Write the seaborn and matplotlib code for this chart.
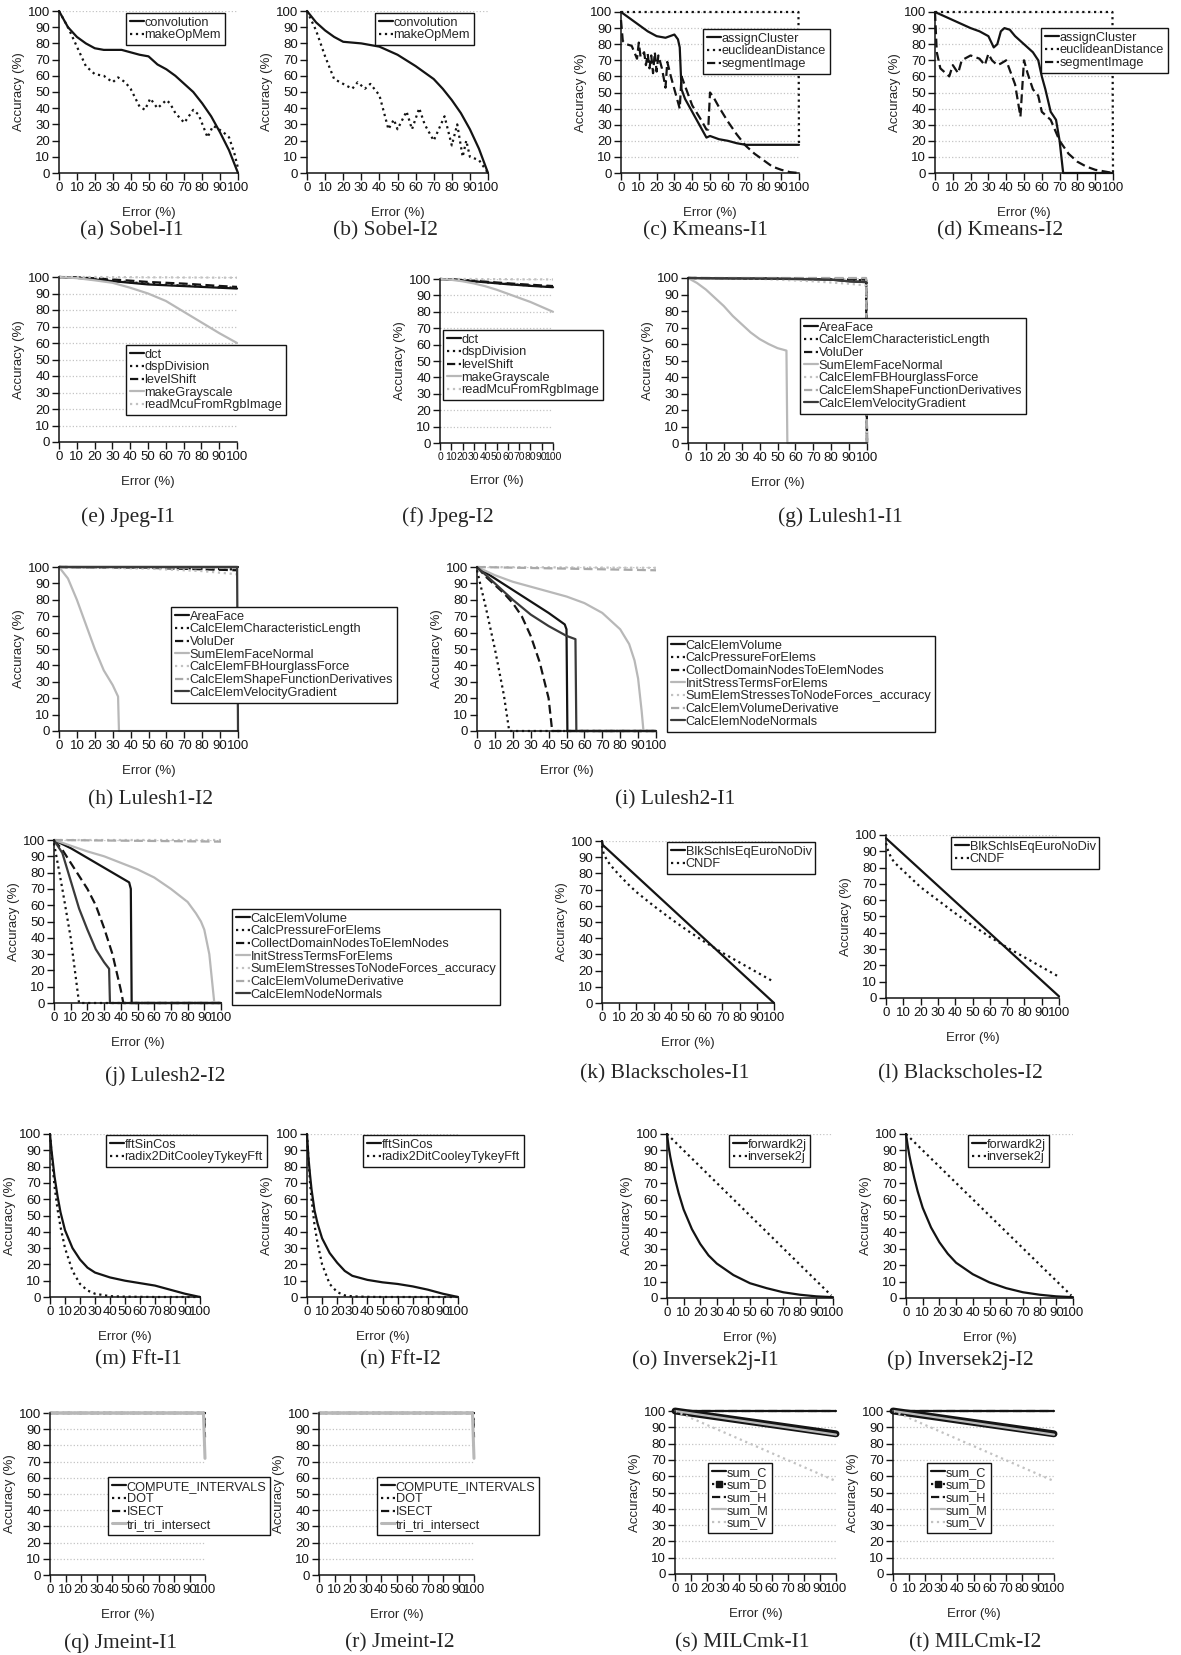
import pandas as pd
import seaborn as sns
import matplotlib.pyplot as plt
from matplotlib.lines import Line2D

sns.set_style("ticks")
plt.rcParams['font.family'] = ['Liberation Sans', 'DejaVu Sans']

### Data (Error % on x, Accuracy % on y)

# (a) Sobel-I1
sobel1_conv_x = [0, 5, 10, 15, 20, 25, 35, 40, 45, 50, 55, 60, 65, 70, 75, 80, 85, 90, 95, 100]
sobel1_conv_y = [100, 90, 84, 80, 77, 76, 76, 74.5, 73, 72, 67, 64, 60, 55, 50, 43, 35, 25, 14, 0]
sobel1_mem_x = [0, 5, 10, 15, 20, 25, 30, 33, 37, 40, 45, 48, 51, 55, 60, 62, 65, 70, 75, 78, 83, 86, 88, 92, 95, 98, 100]
sobel1_mem_y = [100, 90, 78, 66, 61, 60, 56, 59, 56, 52, 41, 39, 46, 40, 45, 43, 37, 31, 39, 36, 22, 29, 28, 25, 22, 12, 3]

# (b) Sobel-I2
sobel2_conv_x = [0, 5, 10, 15, 20, 30, 40, 50, 60, 70, 75, 80, 85, 90, 95, 100]
sobel2_conv_y = [100, 93, 88, 84, 81, 80, 78, 73, 66, 58, 52, 45, 37, 27, 15, 0]
sobel2_mem_x = [0, 5, 10, 15, 20, 25, 28, 32, 35, 40, 45, 48, 50, 55, 58, 62, 65, 70, 72, 76, 80, 83, 86, 88, 90, 95, 100]
sobel2_mem_y = [100, 88, 72, 58, 55, 52, 56, 52, 55, 48, 27, 33, 27, 38, 27, 40, 30, 20, 25, 35, 17, 30, 10, 20, 10, 8, 0]

# (c) Kmeans-I1
km1_assign_x = [0, 5, 10, 15, 20, 25, 30, 32, 33, 34, 36, 40, 45, 48, 50, 55, 60, 65, 70, 80, 100]
km1_assign_y = [100, 96, 92, 88, 85, 84, 86, 83, 78, 52, 46, 38, 28, 22, 23, 21, 20, 18.5, 17.5, 17.5, 17.5]
km1_eucl_x = [0, 99.7, 100]
km1_eucl_y = [100, 100, 17]
km1_seg_x = [0, 1, 3, 6, 9, 10, 11, 13, 14, 15, 16, 17, 18, 19, 20, 21, 23, 25, 26, 28, 30, 33, 34, 36, 40, 45, 48, 49, 50, 52, 55, 60, 65, 70, 75, 80, 85, 90, 95, 100]
km1_seg_y = [95, 82, 80, 79, 71, 81, 72, 75, 67, 74, 65, 73, 62, 75, 63, 73, 65, 53, 69, 60, 52, 40, 60, 54, 42, 33, 27, 27, 50, 47, 41, 32, 24, 17, 12, 8, 4, 2, 0.5, 0]

# (d) Kmeans-I2
km2_assign_x = [0, 10, 20, 25, 30, 33, 35, 37, 39, 42, 45, 50, 55, 58, 60, 62, 65, 68, 70, 72, 100]
km2_assign_y = [100, 95, 90, 88, 85, 78, 80, 88, 90, 89, 85, 80, 75, 70, 60, 52, 38, 33, 20, 0, 0]
km2_eucl_x = [0, 99.7, 100]
km2_eucl_y = [100, 100, 0]
km2_seg_x = [0, 1, 3, 5, 8, 10, 13, 15, 20, 25, 28, 30, 32, 35, 37, 40, 45, 48, 50, 52, 55, 58, 60, 65, 70, 75, 80, 85, 90, 95, 100]
km2_seg_y = [100, 75, 65, 63, 60, 67, 62, 70, 73, 71, 67, 74, 70, 67, 68, 70, 55, 35, 70, 62, 52, 48, 38, 33, 20, 12, 7, 4, 2, 1, 0]

# (e) Jpeg-I1 / (f) Jpeg-I2
jpeg_x = [0, 10, 20, 30, 40, 50, 60, 70, 80, 90, 100]
jpeg1_dct = [100, 99.5, 98.5, 97.5, 96.5, 95.5, 95, 94.5, 94, 93.5, 93]
jpeg1_dsp = [100, 99.5, 98.8, 97.8, 96.8, 96, 95.3, 94.8, 94.3, 93.8, 93.5]
jpeg1_level = [100, 99.8, 99.2, 98.5, 97.8, 97, 96.5, 96, 95.3, 94.6, 94]
jpeg1_gray = [100, 99.3, 98, 96.5, 93.5, 90, 85.5, 79, 72.5, 66, 60]
jpeg1_mcu = [100, 100, 100, 99.9, 99.9, 99.8, 99.8, 99.7, 99.7, 99.6, 99.6]
jpeg2_dct = [100, 99.7, 99.2, 98.6, 98, 97.4, 96.8, 96.3, 95.8, 95.4, 95]
jpeg2_dsp = [100, 99.7, 99.3, 98.7, 98.1, 97.5, 97, 96.5, 96, 95.6, 95.2]
jpeg2_level = [100, 99.8, 99.4, 98.9, 98.4, 97.9, 97.4, 96.9, 96.5, 96.1, 95.7]
jpeg2_gray = [100, 99.5, 98.6, 97.3, 95.6, 93.5, 91, 88.5, 86, 83, 80]
jpeg2_mcu = [100, 100, 100, 100, 99.9, 99.9, 99.9, 99.8, 99.8, 99.8, 99.7]

# (g) Lulesh1-I1
l11_area_x = [0, 50, 80, 90, 99.5, 100]
l11_area_y = [100, 99.5, 99, 98, 97.5, 0]
l11_char_x = [0, 50, 90, 99.5, 100]
l11_char_y = [100, 99.7, 99, 98.5, 0]
l11_volu_x = [0, 50, 90, 99.5, 100]
l11_volu_y = [100, 99.8, 99.5, 99, 0]
l11_face_x = [0, 5, 10, 15, 20, 25, 30, 35, 40, 45, 50, 55, 55.5, 100]
l11_face_y = [100, 97, 93, 88, 83, 77, 72, 67, 63, 60, 57.5, 56, 0, 0]
l11_hour_x = [0, 40, 70, 90, 99.5, 100]
l11_hour_y = [100, 99.5, 98, 96.5, 95.5, 0]
l11_shape_x = [0, 99.5, 100]
l11_shape_y = [100, 100, 0]
l11_vel_x = [0, 60, 80, 90, 99.5, 100]
l11_vel_y = [100, 99.5, 99, 98, 97.5, 97]

# (h) Lulesh1-I2
l12_area_x = [0, 100]
l12_area_y = [100, 100]
l12_char_x = [0, 50, 100]
l12_char_y = [100, 99.5, 98.5]
l12_volu_x = [0, 50, 100]
l12_volu_y = [100, 99.5, 98]
l12_face_x = [0, 5, 10, 15, 20, 25, 30, 33, 33.5, 100]
l12_face_y = [100, 93, 80, 65, 50, 37, 28, 21, 0, 0]
l12_hour_x = [0, 50, 80, 100]
l12_hour_y = [100, 99, 97.5, 95.5]
l12_shape_x = [0, 100]
l12_shape_y = [100, 99.5]
l12_vel_x = [0, 99.5, 100]
l12_vel_y = [100, 100, 0]

# (i) Lulesh2-I1
l21_vol_x = [0, 10, 20, 30, 40, 49, 50, 50.5, 100]
l21_vol_y = [100, 93, 86, 79, 72, 65, 62, 0, 0]
l21_press_x = [0, 5, 10, 15, 18, 100]
l21_press_y = [98, 75, 50, 22, 0, 0]
l21_coll_x = [0, 5, 10, 15, 20, 25, 30, 35, 40, 42, 100]
l21_coll_y = [100, 94, 89, 84, 78, 70, 58, 42, 20, 0, 0]
l21_init_x = [0, 10, 20, 30, 40, 50, 60, 70, 80, 85, 88, 90, 92, 93, 100]
l21_init_y = [100, 95, 91, 88, 85, 82, 78, 72, 62, 53, 43, 32, 12, 0, 0]
l21_sum_x = [0, 100]
l21_sum_y = [100, 99.5]
l21_deriv_x = [0, 100]
l21_deriv_y = [100, 98]
l21_norm_x = [0, 10, 20, 30, 40, 50, 55, 55.5, 100]
l21_norm_y = [100, 90, 80, 71, 64, 58, 56, 0, 0]

# (j) Lulesh2-I2
l22_vol_x = [0, 10, 20, 30, 40, 45, 46, 46.5, 100]
l22_vol_y = [100, 95, 89, 83, 77, 74, 70, 0, 0]
l22_press_x = [0, 5, 10, 14, 15, 100]
l22_press_y = [98, 70, 40, 8, 0, 0]
l22_coll_x = [0, 5, 10, 15, 20, 25, 30, 35, 40, 41.5, 100]
l22_coll_y = [100, 94, 86, 78, 70, 60, 46, 30, 8, 0, 0]
l22_init_x = [0, 10, 20, 30, 40, 50, 60, 70, 80, 85, 88, 90, 93, 95, 96, 100]
l22_init_y = [100, 96.5, 93, 90, 86, 82, 77, 70, 62, 55, 50, 45, 30, 10, 0, 0]
l22_sum_x = [0, 100]
l22_sum_y = [100, 100]
l22_deriv_x = [0, 100]
l22_deriv_y = [100, 99]
l22_norm_x = [0, 5, 10, 15, 20, 25, 30, 33, 33.5, 100]
l22_norm_y = [100, 92, 75, 58, 45, 33, 25, 21, 0, 0]

# (k) Blackscholes-I1 / (l) Blackscholes-I2
bs_cndf_x = [0, 1, 3, 5, 10, 15, 20, 30, 40, 50, 60, 70, 80, 90, 100]
bs1_blk_x = [0, 0.5, 100]
bs1_blk_y = [100, 97.5, 0]
bs1_cndf_y = [97, 92, 88, 85, 79, 73.5, 68.5, 60, 52, 44.5, 37.5, 31, 25, 19, 13]
bs2_blk_x = [0, 100]
bs2_blk_y = [98, 1]
bs2_cndf_y = [95, 91, 86, 83, 78, 73, 68, 60, 52, 44.5, 37.5, 31, 25, 19, 13]

# (m) Fft-I1 / (n) Fft-I2
fft_x = [0, 1, 2, 3, 5, 7, 10, 15, 20, 25, 30, 40, 50, 60, 70, 80, 90, 100]
fft1_sin = [100, 90, 82, 74, 62, 52, 41, 30, 23, 18, 15, 12, 10, 8.5, 7, 4.5, 2, 0]
fft1_radix = [100, 88, 78, 68, 54, 43, 30, 16, 8, 4, 2, 0.5, 0.2, 0.1, 0, 0, 0, 0]
fft2_sin = [100, 85, 75, 66, 53, 45, 36, 27, 21, 16, 13, 10.5, 9, 8, 6.5, 4.5, 2, 0]
fft2_radix = [100, 84, 70, 60, 44, 33, 20, 8, 3, 1, 0.4, 0.1, 0, 0, 0, 0, 0, 0]

# (o) Inversek2j-I1 / (p) Inversek2j-I2
ik_x = [0, 1, 2, 3, 5, 7, 10, 15, 20, 25, 30, 40, 50, 60, 70, 80, 90, 100]
ik1_fwd = [100, 92, 86, 81, 72, 64, 54, 42, 33, 26, 21, 14, 9, 6, 3.5, 2, 1, 0.5]
ik2_fwd = [100, 93, 87, 82, 73, 65, 55, 43, 34, 27, 21.5, 14.5, 9.5, 6, 3.5, 2, 1, 0.5]
ik_inv_x = [0, 99]
ik_inv_y = [100, 1.5]

# (q) Jmeint-I1 / (r) Jmeint-I2
jm_comp_x = [0, 100]
jm_comp_y = [100, 100]
jm_dot_x = [0, 99.5, 100]
jm_dot_y = [100, 100, 90]
jm_isect_x = [0, 99.5, 100]
jm_isect_y = [100, 100, 85]
jm_tri_x = [0, 99, 100]
jm_tri_y = [100, 100, 72]

# (s) MILCmk-I1 / (t) MILCmk-I2
milc_x = [0, 100]
milc_c = [100, 100]
milc_d = [100, 86]
milc_h = [100, 100]
milc_m = [100, 85.5]
milc_v = [100, 57]

### Styles
BLACK, DARK, LIGHT, PALE, MID, GRID = '#141414', '#3a3a3a', '#b8b8b8', '#c2c2c2', '#a9a9a9', '#c4c4c4'
STY = {
    'k-': dict(color=BLACK, linestyle='-', linewidth=1.6),
    'k:': dict(color=BLACK, linestyle=':', linewidth=1.6),
    'k--': dict(color=BLACK, linestyle=(0, (4, 2)), linewidth=1.6),
    'g-': dict(color=LIGHT, linestyle='-', linewidth=1.6),
    'g:': dict(color=PALE, linestyle=':', linewidth=1.6),
    'g--': dict(color=MID, linestyle=(0, (4, 2)), linewidth=1.6),
    'd-': dict(color=DARK, linestyle='-', linewidth=1.6),
    'gthick': dict(color=LIGHT, linestyle='-', linewidth=2.2),
    'band': dict(color=BLACK, linestyle='-', linewidth=5.0),
}

W, H = 1181, 1655
fig = plt.figure(figsize=(W / 100, H / 100), dpi=100)


def panel(box, series, leg_xy, caption, cap_xy, full_grid=False, swap=None, xtick_size=9.5):
    x0, x1, ytop, ybot = box
    ax = fig.add_axes([x0 / W, 1 - ybot / H, (x1 - x0) / W, (ybot - ytop) / H])
    if full_grid:
        ax.yaxis.grid(True, linestyle=':', color=GRID, linewidth=0.9)
    else:
        ax.axhline(100, linestyle=':', color=GRID, linewidth=0.9, zorder=0)
    ax.set_axisbelow(True)
    handles = []
    for label, xs, ys, key in series:
        df = pd.DataFrame({'x': xs, 'y': ys})
        sns.lineplot(data=df, x='x', y='y', ax=ax, estimator=None, sort=False,
                     clip_on=False, **STY[key])
        ln = ax.lines[-1]
        if swap and label in swap:
            h = swap[label]
        else:
            h = Line2D([], [], color=ln.get_color(), linestyle=ln.get_linestyle(),
                       linewidth=min(ln.get_linewidth(), 2.2))
        handles.append((h, label))
    ax.set_xlim(0, 100)
    ax.set_ylim(0, 100)
    ax.set_xticks(range(0, 101, 10))
    ax.set_yticks(range(0, 101, 10))
    ax.tick_params(direction='out', length=5, width=1, labelsize=9.5, pad=1.5, colors=BLACK)
    ax.tick_params(axis='x', labelsize=xtick_size)
    for s in ['left', 'bottom']:
        ax.spines[s].set_linewidth(1.1)
        ax.spines[s].set_color(BLACK)
    sns.despine(ax=ax)
    ax.set_xlabel('Error (%)', fontsize=9.5, labelpad=9)
    ax.set_ylabel('Accuracy (%)', fontsize=9.5, labelpad=2)
    leg = ax.legend([h for h, _ in handles], [l for _, l in handles],
                    loc='upper left', bbox_to_anchor=(leg_xy[0] / W, 1 - leg_xy[1] / H),
                    bbox_transform=fig.transFigure, borderaxespad=0, fontsize=9.2,
                    handlelength=1.1, handletextpad=0.05, labelspacing=0.05,
                    borderpad=0.3, fancybox=False, framealpha=1, edgecolor=BLACK)
    leg.get_frame().set_linewidth(1.0)
    fig.text(cap_xy[0] / W, 1 - cap_xy[1] / H, caption, ha='center', va='center',
             family=['Liberation Serif', 'DejaVu Serif'], fontsize=15.5)
    return ax


# row 1
panel((59, 238, 11, 173),
      [('convolution', sobel1_conv_x, sobel1_conv_y, 'k-'),
       ('makeOpMem', sobel1_mem_x, sobel1_mem_y, 'k:')],
      (126, 13), '(a) Sobel-I1', (132, 231))
panel((307, 488, 11, 173),
      [('convolution', sobel2_conv_x, sobel2_conv_y, 'k-'),
       ('makeOpMem', sobel2_mem_x, sobel2_mem_y, 'k:')],
      (375, 13), '(b) Sobel-I2', (385, 231))
panel((621, 799, 12, 173),
      [('assignCluster', km1_assign_x, km1_assign_y, 'k-'),
       ('euclideanDistance', km1_eucl_x, km1_eucl_y, 'k:'),
       ('segmentImage', km1_seg_x, km1_seg_y, 'k--')],
      (703, 29), '(c) Kmeans-I1', (705, 231), full_grid=True)
panel((935, 1113, 12, 173),
      [('assignCluster', km2_assign_x, km2_assign_y, 'k-'),
       ('euclideanDistance', km2_eucl_x, km2_eucl_y, 'k:'),
       ('segmentImage', km2_seg_x, km2_seg_y, 'k--')],
      (1041, 28), '(d) Kmeans-I2', (1000, 231), full_grid=True)

# row 2
jpeg_names = ['dct', 'dspDivision', 'levelShift', 'makeGrayscale', 'readMcuFromRgbImage']
jpeg_keys = ['k-', 'k:', 'k--', 'g-', 'g:']
panel((59, 237, 277, 442),
      [(n, jpeg_x, y, k) for n, y, k in zip(jpeg_names, [jpeg1_dct, jpeg1_dsp, jpeg1_level, jpeg1_gray, jpeg1_mcu], jpeg_keys)],
      (126, 345), '(e) Jpeg-I1', (128, 517), full_grid=True)
panel((440, 553, 279, 443),
      [(n, jpeg_x, y, k) for n, y, k in zip(jpeg_names, [jpeg2_dct, jpeg2_dsp, jpeg2_level, jpeg2_gray, jpeg2_mcu], jpeg_keys)],
      (443, 330), '(f) Jpeg-I2', (448, 517), full_grid=True, xtick_size=7.5)

l1_names = ['AreaFace', 'CalcElemCharacteristicLength', 'VoluDer', 'SumElemFaceNormal',
            'CalcElemFBHourglassForce', 'CalcElemShapeFunctionDerivatives', 'CalcElemVelocityGradient']
l_keys = ['k-', 'k:', 'k--', 'g-', 'g:', 'g--', 'd-']
panel((688, 867, 278, 443),
      [(n, x, y, k) for n, x, y, k in zip(l1_names,
                                          [l11_area_x, l11_char_x, l11_volu_x, l11_face_x, l11_hour_x, l11_shape_x, l11_vel_x],
                                          [l11_area_y, l11_char_y, l11_volu_y, l11_face_y, l11_hour_y, l11_shape_y, l11_vel_y],
                                          l_keys)],
      (800, 318), '(g) Lulesh1-I1', (840, 517))

# row 3
panel((59, 238, 567, 731),
      [(n, x, y, k) for n, x, y, k in zip(l1_names,
                                          [l12_area_x, l12_char_x, l12_volu_x, l12_face_x, l12_hour_x, l12_shape_x, l12_vel_x],
                                          [l12_area_y, l12_char_y, l12_volu_y, l12_face_y, l12_hour_y, l12_shape_y, l12_vel_y],
                                          l_keys)],
      (171, 607), '(h) Lulesh1-I2', (150, 800))
l2_names = ['CalcElemVolume', 'CalcPressureForElems', 'CollectDomainNodesToElemNodes', 'InitStressTermsForElems',
            'SumElemStressesToNodeForces_accuracy', 'CalcElemVolumeDerivative', 'CalcElemNodeNormals']
panel((477, 656, 567, 731),
      [(n, x, y, k) for n, x, y, k in zip(l2_names,
                                          [l21_vol_x, l21_press_x, l21_coll_x, l21_init_x, l21_sum_x, l21_deriv_x, l21_norm_x],
                                          [l21_vol_y, l21_press_y, l21_coll_y, l21_init_y, l21_sum_y, l21_deriv_y, l21_norm_y],
                                          l_keys)],
      (667, 636), '(i) Lulesh2-I1', (675, 800))

# row 4
panel((54, 221, 840, 1003),
      [(n, x, y, k) for n, x, y, k in zip(l2_names,
                                          [l22_vol_x, l22_press_x, l22_coll_x, l22_init_x, l22_sum_x, l22_deriv_x, l22_norm_x],
                                          [l22_vol_y, l22_press_y, l22_coll_y, l22_init_y, l22_sum_y, l22_deriv_y, l22_norm_y],
                                          l_keys)],
      (232, 909), '(j) Lulesh2-I2', (165, 1076))
panel((602, 774, 841, 1003),
      [('BlkSchlsEqEuroNoDiv', bs1_blk_x, bs1_blk_y, 'k-'),
       ('CNDF', bs_cndf_x, bs1_cndf_y, 'k:')],
      (667, 842), '(k) Blackscholes-I1', (665, 1074))
panel((886, 1059, 835, 998),
      [('BlkSchlsEqEuroNoDiv', bs2_blk_x, bs2_blk_y, 'k-'),
       ('CNDF', bs_cndf_x, bs2_cndf_y, 'k:')],
      (951, 837), '(l) Blackscholes-I2', (960, 1074))

# row 5
panel((50, 200, 1134, 1297),
      [('fftSinCos', fft_x, fft1_sin, 'k-'), ('radix2DitCooleyTykeyFft', fft_x, fft1_radix, 'k:')],
      (106, 1135), '(m) Fft-I1', (138, 1360))
panel((307, 458, 1134, 1297),
      [('fftSinCos', fft_x, fft2_sin, 'k-'), ('radix2DitCooleyTykeyFft', fft_x, fft2_radix, 'k:')],
      (363, 1135), '(n) Fft-I2', (400, 1360))
panel((667, 833, 1134, 1298),
      [('forwardk2j', ik_x, ik1_fwd, 'k-'), ('inversek2j', ik_inv_x, ik_inv_y, 'k:')],
      (729, 1135), '(o) Inversek2j-I1', (705, 1360))
panel((906, 1073, 1134, 1298),
      [('forwardk2j', ik_x, ik2_fwd, 'k-'), ('inversek2j', ik_inv_x, ik_inv_y, 'k:')],
      (968, 1135), '(p) Inversek2j-I2', (960, 1360))

# row 6
jm_series = [('COMPUTE_INTERVALS', jm_comp_x, jm_comp_y, 'k-'),
             ('DOT', jm_dot_x, jm_dot_y, 'k:'),
             ('ISECT', jm_isect_x, jm_isect_y, 'k--'),
             ('tri_tri_intersect', jm_tri_x, jm_tri_y, 'gthick')]
panel((50, 205, 1413, 1575), jm_series, (108, 1477), '(q) Jmeint-I1', (120, 1643), full_grid=True)
panel((319, 474, 1413, 1575), jm_series, (377, 1477), '(r) Jmeint-I2', (400, 1643), full_grid=True)

milc_d_handle = Line2D([], [], color=BLACK, linestyle=':', linewidth=1.6, marker='s', markersize=5,
                       markevery=[1], markerfacecolor=BLACK)
milc_series = [('sum_C', milc_x, milc_c, 'k-'),
               ('sum_D', milc_x, milc_d, 'band'),
               ('sum_H', milc_x, milc_h, 'k--'),
               ('sum_M', milc_x, milc_m, 'g-'),
               ('sum_V', milc_x, milc_v, 'g:')]
panel((675, 836, 1411, 1574), milc_series, (708, 1463), '(s) MILCmk-I1', (742, 1643),
      full_grid=True, swap={'sum_D': milc_d_handle})
panel((893, 1054, 1411, 1574), milc_series, (927, 1463), '(t) MILCmk-I2', (975, 1643),
      full_grid=True, swap={'sum_D': milc_d_handle})

fig.savefig('out.png', dpi=100)
